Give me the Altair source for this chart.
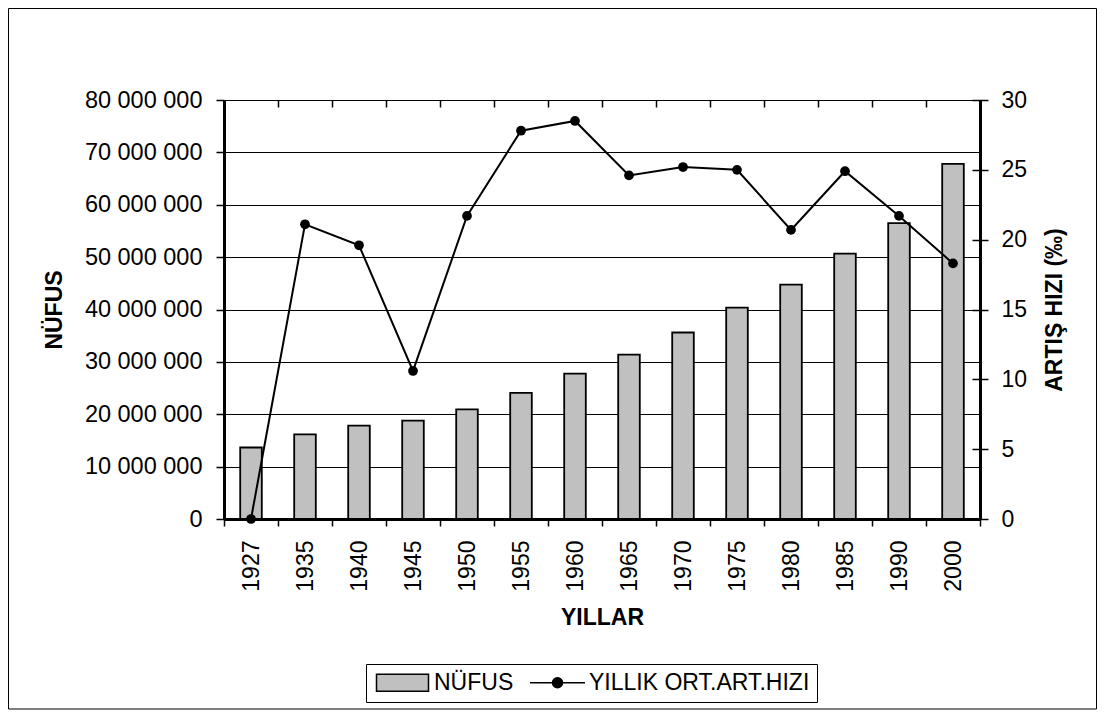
import altair as alt
import pandas as pd

years = ["1927", "1935", "1940", "1945", "1950", "1955", "1960",
         "1965", "1970", "1975", "1980", "1985", "1990", "2000"]
population = [13648270, 16158018, 17820950, 18790174, 20947188, 24064763, 27754820,
              31391421, 35605176, 40347719, 44736957, 50664458, 56473035, 67803927]
rate = [0.0, 21.1, 19.6, 10.6, 21.7, 27.8, 28.5, 24.6, 25.2, 25.0, 20.7, 24.9, 21.7, 18.3]

pop_ticks = [0, 10000000, 20000000, 30000000, 40000000, 50000000, 60000000, 70000000, 80000000]
rate_ticks = [0, 5, 10, 15, 20, 25, 30]

bar_label = "NÜFUS"
line_label = "YILLIK ORT.ART.HIZI"
series_names = [bar_label, line_label]
series_fill = ["#C0C0C0", "black"]
series_stroke = ["black", "black"]

df = pd.DataFrame({"YIL": years, "NUFUS": population, "HIZ": rate})
legend_df = pd.DataFrame({"series": series_names})

FONT = "Liberation Sans"
W, H = 756, 419
PAD_L, PAD_T = 216, 92

RECT_PATH = "M-2.6,-0.85H2.6V0.85H-2.6Z"
LINE_PATH = "M-2.75,0H2.75M0.5,0A0.5,0.5 0 1,1 -0.5,0A0.5,0.5 0 1,1 0.5,0Z"

legend = alt.Legend(
    title=None, orient="none", legendX=142, legendY=564, direction="horizontal",
    labelFont=FONT, labelFontSize=23, labelColor="black", labelLimit=400,
    labelOffset=20, symbolOffset=18, columnPadding=13, padding=7,
    symbolSize=400, symbolStrokeWidth=1.5, symbolOpacity=1,
    strokeColor="black", fillColor="white",
)

x_axis = alt.Axis(
    title="YILLAR", labelAngle=270, tickBand="extent", tickSize=7, tickColor="black",
    tickWidth=1.5, domainColor="black", domainWidth=3, labelPadding=14, titlePadding=15,
    labelFontSize=23, titleFontSize=23, titleFontWeight="bold", grid=False,
)
x_inner_axis = alt.Axis(
    title=None, labels=False, domain=False, grid=False, tickBand="extent", tickSize=7,
    tickColor="black", tickWidth=1.5, offset=-7,
)

bars = alt.Chart(df).mark_bar(
    width=alt.RelativeBandSize(0.4), fill="#C0C0C0", stroke="black", strokeWidth=1.8
).encode(
    x=alt.X("YIL:N", sort=years, scale=alt.Scale(paddingInner=0, paddingOuter=0), axis=x_axis),
    y=alt.Y("NUFUS:Q", scale=alt.Scale(domain=[0, 80000000], nice=False),
            axis=alt.Axis(orient="left", title="NÜFUS", values=pop_ticks,
                          labelExpr="replace(format(datum.value, ','), regexp(',', 'g'), ' ')",
                          grid=True, gridColor="black", gridWidth=1, gridOpacity=1,
                          tickSize=8, tickColor="black", tickWidth=1.5,
                          domainColor="black", domainWidth=3,
                          labelPadding=14, titlePadding=18,
                          labelFontSize=23.5, titleFontSize=23, titleFontWeight="bold")),
)

line = alt.Chart(df).mark_line(stroke="black", strokeWidth=2).encode(
    x=alt.X("YIL:N", sort=years, axis=x_inner_axis),
    y=alt.Y("HIZ:Q", scale=alt.Scale(domain=[0, 30], nice=False),
            axis=alt.Axis(orient="right", title="ARTIŞ HIZI (‰)", values=rate_ticks,
                          grid=False, tickSize=8, tickColor="black", tickWidth=1.5,
                          domainColor="black", domainWidth=3,
                          labelPadding=13, titlePadding=17, titleAngle=270,
                          titleBaseline="top",
                          labelFontSize=23, titleFontSize=23, titleFontWeight="bold")),
)

pts = alt.Chart(df).mark_circle(color="black", size=95, opacity=1).encode(
    x=alt.X("YIL:N", sort=years, axis=x_inner_axis),
    y=alt.Y("HIZ:Q", scale=alt.Scale(domain=[0, 30], nice=False),
            axis=alt.Axis(orient="right", title=None, values=rate_ticks, labels=False,
                          domain=False, grid=False, tickSize=8, tickColor="black",
                          tickWidth=1.5, offset=-8)),
)

rate_layer = alt.layer(line, pts).resolve_axis(y="independent")

legend_layer = alt.Chart(legend_df).mark_point(
    filled=False, strokeWidth=1.5, opacity=0
).encode(
    shape=alt.Shape("series:N", scale=alt.Scale(domain=series_names, range=[RECT_PATH, LINE_PATH]),
                    legend=legend),
    fill=alt.Fill("series:N", scale=alt.Scale(domain=series_names, range=series_fill),
                  legend=legend),
    stroke=alt.Stroke("series:N", scale=alt.Scale(domain=series_names, range=series_stroke),
                      legend=legend),
)

frame = alt.Chart(alt.Data(values=[{"k": 1}])).mark_rect(
    fill="transparent", stroke="black", strokeWidth=1
).encode(
    x=alt.value(-215.5), x2=alt.value(872.5), y=alt.value(-91.5), y2=alt.value(609)
)

chart = alt.layer(bars, rate_layer, legend_layer, frame).resolve_scale(
    y="independent"
).resolve_axis(x="independent").properties(
    width=W, height=H,
    autosize=alt.AutoSizeParams(type="none"),
    padding={"left": PAD_L, "top": PAD_T, "right": 1089 - PAD_L - W, "bottom": 704 - PAD_T - H},
).configure_axis(
    labelFont=FONT, titleFont=FONT, labelColor="black", titleColor="black",
).configure_view(
    stroke="black", strokeWidth=3,
).configure(background="white")

chart.save("out.html", embed_options={"renderer": "svg", "actions": False})
